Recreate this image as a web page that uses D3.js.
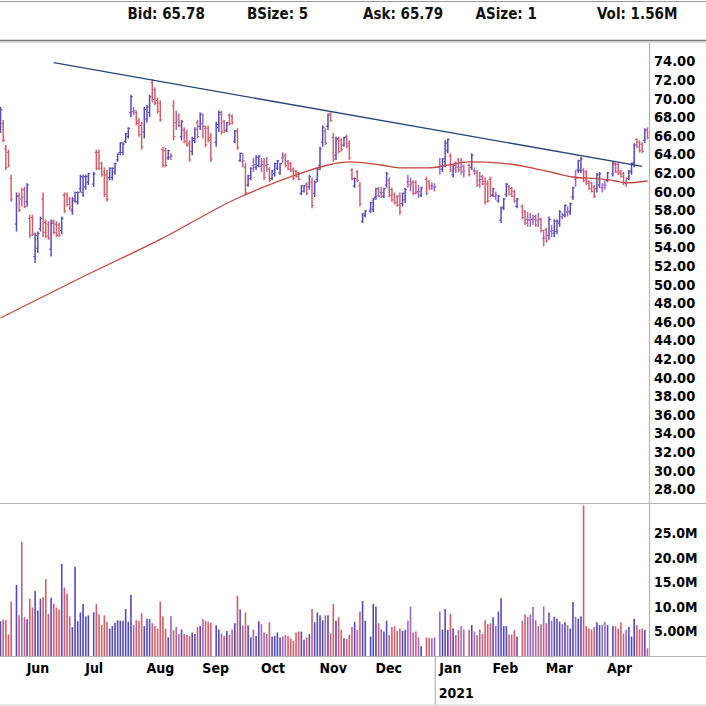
<!DOCTYPE html>
<html><head><meta charset="utf-8">
<script src="https://cdn.jsdelivr.net/npm/d3@7"></script>
<style>
body{margin:0;background:#fff}
svg{display:block}
text{font-family:"DejaVu Sans Condensed","DejaVu Sans",sans-serif;font-stretch:condensed}
</style>
</head><body>
<svg id="chart" width="706" height="706"></svg>
<script>
// ---------- data ----------
const startDate = "2020-05-18", endDate = "2021-04-22";
const holidays = ["2020-05-25","2020-07-03","2020-09-07","2020-11-26","2020-12-25","2021-01-01","2021-01-18","2021-02-15","2021-04-02"];

const highs = [69.1,67.7,65.0,64.5,61.8,59.9,59.9,60.4,60.5,60.9,
57.5,57.5,55.6,55.7,57.3,59.9,57.0,56.8,57.0,57.0,
56.8,56.6,57.3,59.9,59.9,59.4,59.4,60.0,60.0,61.8,
61.8,61.8,62.0,62.1,64.5,64.5,63.2,62.6,62.3,62.6,
62.6,63.1,64.1,65.3,65.3,66.3,66.9,70.4,69.1,68.7,
67.9,67.5,69.1,69.3,70.4,72.1,71.2,70.1,69.8,64.8,
64.7,64.5,64.1,69.8,68.7,68.4,67.7,66.9,66.6,65.5,
65.9,66.9,67.7,68.5,68.4,67.1,67.1,66.3,67.5,68.7,
68.7,67.7,67.5,68.4,68.3,66.6,66.8,64.2,64.1,63.1,
61.8,62.6,63.6,63.9,63.9,63.6,63.6,63.7,62.6,62.3,
63.1,63.4,63.1,64.2,64.1,63.4,63.2,62.6,62.3,62.1,
60.7,60.7,61.0,61.8,61.5,61.2,62.6,64.8,67.1,66.8,
68.4,68.5,66.3,65.9,65.9,65.7,65.9,66.1,65.5,62.5,
61.5,62.3,61.0,57.7,58.0,58.9,59.3,60.4,60.5,60.5,
60.4,62.1,61.5,60.4,59.9,59.6,59.9,59.9,60.4,61.8,
61.5,61.2,61.2,60.7,60.5,61.6,61.2,61.0,60.9,63.6,
63.6,65.5,65.7,64.1,62.9,63.2,63.6,63.6,62.9,63.0,
64.1,62.6,62.3,62.1,61.8,61.5,61.2,61.6,60.4,60.0,
59.6,58.4,59.3,60.9,60.7,60.5,60.2,59.3,58.6,58.0,
57.8,57.7,57.5,57.5,57.7,57.2,55.9,56.1,57.3,56.4,
57.0,57.0,58.0,57.7,58.6,58.4,58.8,60.5,62.3,63.4,
63.7,62.5,62.3,61.2,61.0,60.7,62.0,62.1,60.9,61.2,
62.1,63.2,63.1,63.1,62.3,62.1,61.5,62.3,63.1,65.2,
65.7,65.5,65.3,66.8,66.9];

const lows = [66.3,65.3,62.3,62.6,58.9,55.7,57.8,58.4,58.2,58.4,
55.0,55.2,52.3,53.4,55.7,55.1,55.0,54.8,53.0,55.4,
55.1,55.1,55.4,57.7,58.4,58.0,57.5,58.8,58.6,59.9,
59.4,60.2,60.7,60.5,62.3,62.3,61.6,59.4,58.9,61.2,
61.2,61.8,63.2,63.9,63.9,65.2,65.7,68.0,68.2,67.1,
65.9,64.5,65.7,67.4,68.0,69.6,69.3,68.4,67.5,62.6,
62.6,63.4,63.4,65.5,66.6,66.9,65.5,65.2,64.8,63.2,
63.9,65.2,65.7,66.6,65.7,64.8,65.3,63.2,64.8,66.4,
66.1,66.3,66.4,67.1,67.2,65.2,64.5,63.2,62.6,59.6,
60.5,61.2,62.1,62.3,62.6,62.1,61.2,62.1,61.0,61.2,
61.6,62.3,61.8,63.1,62.6,62.3,62.1,61.2,61.5,61.2,
59.6,59.9,59.6,60.2,58.2,59.4,61.0,62.3,64.8,65.0,
66.6,67.5,63.2,63.4,64.1,64.3,64.8,64.7,63.4,61.2,
60.4,61.0,58.4,56.6,57.2,57.7,57.8,59.1,59.4,59.3,
59.3,60.4,59.4,58.9,58.6,58.4,57.5,58.4,58.8,60.4,
60.0,59.6,59.7,59.3,59.4,59.6,60.2,60.2,60.0,61.8,
62.1,62.6,64.1,62.1,61.5,62.0,62.1,61.8,61.5,61.6,
62.3,61.8,60.5,60.4,60.7,58.6,58.8,59.4,59.4,59.1,
58.8,56.6,58.0,59.4,59.6,59.4,58.8,58.2,57.0,56.4,
56.2,56.2,56.4,56.2,56.2,55.6,54.1,54.5,54.8,55.1,
55.1,55.4,56.2,57.0,57.2,57.3,57.5,59.1,60.5,62.0,
62.0,61.0,60.7,60.2,59.9,59.3,59.9,60.4,59.9,60.2,
61.0,61.6,62.0,61.8,61.5,60.7,60.5,61.2,61.8,62.6,
64.7,64.2,64.1,65.2,65.6];

const opens = [66.9,67.3,64.6,64.2,61.4,56.5,59.6,59.2,60.2,58.9,
57.1,57.2,53.0,53.9,56.0,59.2,56.7,56.5,53.8,56.8,
56.5,56.4,55.8,59.6,59.7,59.2,57.9,59.0,58.9,60.3,
59.9,60.5,61.0,60.8,64.2,64.2,63.0,62.1,61.8,61.5,
61.5,62.1,63.4,64.2,64.2,65.4,65.9,68.5,68.6,68.5,
67.6,67.1,66.4,67.8,68.5,71.7,70.9,69.8,69.5,64.5,
64.4,63.6,63.7,69.2,67.4,68.2,65.9,66.6,66.3,65.2,
64.3,65.5,67.4,67.0,67.3,66.8,66.8,65.8,65.3,66.9,
68.3,67.5,66.6,68.2,68.1,65.4,66.5,63.3,63.2,62.6,
60.7,61.4,62.8,62.6,62.8,62.7,63.2,62.8,62.4,61.4,
61.9,62.5,62.0,63.6,63.9,63.2,63.0,62.4,62.2,62.0,
59.8,60.0,60.8,60.5,61.0,59.8,61.3,62.8,65.3,66.5,
67.0,68.4,65.8,63.9,65.6,65.5,65.0,65.9,65.2,62.3,
60.6,62.1,60.6,56.8,57.4,57.9,58.1,59.4,60.3,59.9,
59.5,60.7,61.2,60.2,59.7,59.4,59.5,58.7,59.1,61.0,
60.7,61.0,61.0,60.0,59.6,61.3,61.1,60.6,60.4,62.6,
62.4,63.2,64.4,63.8,61.8,62.5,63.4,62.6,62.1,62.8,
62.6,62.2,62.0,61.2,61.6,61.1,60.8,61.3,59.6,59.5,
59.0,56.9,58.3,59.7,60.5,60.3,60.0,58.4,58.4,57.8,
57.0,56.9,57.0,57.3,56.9,57.0,55.0,55.9,55.3,55.7,
55.5,55.7,56.6,57.3,57.5,57.8,57.8,59.4,61.3,62.3,
62.3,62.3,62.1,61.1,60.9,60.5,60.3,60.7,60.4,60.7,
61.2,61.9,62.9,62.9,62.2,61.9,61.0,61.4,62.1,63.1,
65.6,65.3,65.1,65.5,66.6];

const closes = [68.8,65.5,62.6,62.8,59.2,59.5,58.0,59.4,58.4,60.7,
55.3,55.4,55.3,55.5,57.1,55.6,55.2,55.0,56.6,55.6,
55.3,55.3,57.1,57.9,58.6,58.1,59.2,59.9,59.9,61.6,
61.6,61.6,61.9,61.9,62.5,62.5,61.8,59.7,59.2,62.5,
62.5,63.0,64.0,65.2,65.1,66.2,66.8,70.2,68.7,67.3,
66.1,64.8,68.8,69.1,70.2,69.9,69.5,68.6,67.7,62.8,
62.8,64.4,63.8,65.9,67.7,67.1,67.5,65.4,65.0,63.4,
65.7,66.7,65.9,68.3,67.0,65.0,65.5,63.5,67.2,68.5,
66.4,66.5,67.4,67.3,67.4,66.5,64.7,64.1,63.3,59.9,
61.7,62.5,62.9,63.7,63.8,62.9,61.5,62.9,61.2,62.2,
63.0,63.3,63.0,63.7,62.8,62.4,62.2,61.4,61.6,61.3,
60.6,60.6,59.8,61.6,58.5,61.0,62.4,64.6,66.9,65.2,
68.2,67.6,63.5,65.7,64.3,64.5,65.8,64.9,63.6,61.4,
61.4,61.2,58.7,57.6,57.9,58.8,59.2,60.3,59.5,59.9,
60.3,61.9,59.6,59.1,58.8,58.5,57.8,59.8,60.2,61.1,
60.8,59.8,59.9,60.0,60.4,59.8,60.3,60.6,60.5,62.7,
63.5,65.2,65.6,62.3,62.8,62.6,62.3,62.7,62.2,61.8,
63.9,62.2,60.7,61.3,60.8,58.9,59.0,59.6,60.3,59.6,
59.5,58.2,59.2,60.8,59.7,59.5,59.0,59.2,57.2,56.6,
57.0,57.0,57.0,56.4,57.0,55.8,55.0,54.7,57.0,55.8,
56.8,56.8,57.8,57.4,58.5,57.9,58.7,60.4,61.4,63.3,
63.5,61.2,60.9,60.3,60.0,59.5,61.8,61.9,60.4,60.7,
62.0,63.0,62.1,62.0,61.6,60.9,61.0,62.2,63.0,65.0,
64.8,64.4,64.3,66.6,65.8];

// volume in millions
const volumes = [7.1,7.4,7.3,4.4,11.1,14.5,8.3,23.3,7.9,7.5,
11.7,9.9,13.3,9.3,11.7,12.0,15.7,8.6,11.9,10.7,
9.9,9.5,18.8,14.0,12.7,8.1,5.9,18.2,7.1,8.9,
10.6,8.1,8.3,8.9,10.6,8.5,6.3,8.3,7.0,5.6,
6.1,6.8,7.3,7.2,7.2,9.6,7.0,12.5,6.3,7.3,
7.2,8.7,6.1,7.6,7.6,6.7,6.1,5.6,11.1,8.1,
5.6,3.8,8.1,5.3,5.9,4.5,5.4,4.5,4.3,4.1,
4.8,4.5,5.9,6.1,7.5,7.2,7.0,6.8,6.3,5.4,
4.6,4.1,5.1,4.3,5.4,6.7,12.3,9.5,6.2,8.9,
6.2,3.8,5.4,4.1,7.1,6.5,4.8,4.5,6.9,4.0,
4.1,4.8,3.8,4.0,4.3,4.1,3.6,3.1,4.8,5.0,
5.0,3.3,3.8,4.5,9.6,6.9,8.9,8.3,7.3,8.3,
8.3,4.6,10.6,7.2,7.9,5.3,3.6,3.5,4.3,5.9,
7.0,5.3,9.1,11.2,7.2,4.0,10.6,10.1,6.7,5.4,
5.0,7.2,4.3,5.9,6.1,5.1,5.6,5.1,5.4,7.2,
10.1,4.8,5.0,3.8,2.0,3.8,3.7,3.6,3.8,9.1,
5.4,9.6,5.3,8.6,5.6,4.3,5.3,6.1,5.4,5.3,
6.3,5.0,4.3,5.4,4.5,7.3,6.5,6.7,7.9,6.1,
9.1,11.8,6.1,6.1,4.4,4.4,5.3,4.0,7.2,8.5,
8.0,8.5,10.0,7.3,6.1,6.5,10.1,6.7,8.9,7.2,
8.0,7.6,7.0,6.5,6.9,6.3,5.6,11.0,8.0,7.6,
8.1,30.7,6.1,5.6,5.4,5.9,6.9,6.3,6.3,7.0,
6.3,6.1,6.1,5.6,6.9,4.6,5.3,5.9,4.0,7.6,
6.3,5.4,5.6,5.3,1.6];

// moving average, read at selected bars (bar index, value)
const maBars   = [0,29,58,87,95,108,120,128,139,147,156,162,169,181,190,200,207,217,222,226,234];
const maValues = [46.40,50.70,54.85,59.41,60.38,61.78,62.85,63.18,62.85,62.53,62.53,62.85,63.18,63.06,62.63,61.99,61.56,61.35,61.13,60.92,61.13];

// trend line (bar index, value)
const trendBars = [19,232];
const trendValues = [73.85,62.70];

const priceTicks = [28,30,32,34,36,38,40,42,44,46,48,50,52,54,56,58,60,62,64,66,68,70,72,74];
const volumeTicks = [5,10,15,20,25];
const volumeTickLabels = ["5.00M","10.0M","15.0M","20.0M","25.0M"];
const monthStarts = ["2020-05-01","2020-06-01","2020-07-01","2020-08-03","2020-09-01","2020-10-01","2020-11-02","2020-12-01","2021-01-04","2021-02-01","2021-03-01","2021-04-01"];
const monthLabels = ["May","Jun","Jul","Aug","Sep","Oct","Nov","Dec","Jan","Feb","Mar","Apr"];
const yearMark = "2021-01-04", yearLabel = "2021";
const headerItems = ["Bid: 65.78","BSize: 5","Ask: 65.79","ASize: 1","Vol: 1.56M"];

// ---------- build ----------
const W = 706, H = 706;
const svg = d3.select("#chart");
const parse = d3.utcParse("%Y-%m-%d"), fmt = d3.utcFormat("%Y-%m-%d");
const isWeekday = d => d.getUTCDay() !== 0 && d.getUTCDay() !== 6;
const weekdays = d3.utcDay.range(parse(startDate), d3.utcDay.offset(parse(endDate), 1)).filter(isWeekday);
const slotOf = new Map(weekdays.map((d, i) => [fmt(d), i]));
function slotFor(s) {
  if (slotOf.has(s)) return slotOf.get(s);
  const d = parse(s);
  return -d3.utcDay.range(d, parse(startDate)).filter(isWeekday).length;
}
const tradingDays = weekdays.filter(d => !holidays.includes(fmt(d))).map(fmt);
const bars = tradingDays.map((date, i) => ({
  date, slot: slotOf.get(date), o: opens[i], h: highs[i], l: lows[i], c: closes[i], v: volumes[i]
}));

const axisX = 649.5;
const x = d3.scaleLinear().domain([0, weekdays.length - 1]).range([0.5, 647.5]);
const y = d3.scaleLinear().domain([28, 74]).range([489.1, 61.3]);
const yv = d3.scaleLinear().domain([0, 25]).range([656, 533.5]);
const col = d3.scaleLinear().domain([0, 0.5, 1]).range(["#e05a56", "#a26abd", "#4242bc"]).clamp(true);
const colorOf = b => col(b.h > b.l ? (b.c - b.l) / (b.h - b.l) : 0.5);
const FONT = '"DejaVu Sans Condensed","DejaVu Sans",sans-serif';

// background
svg.append("rect").attr("width", W).attr("height", H).attr("fill", "#fff");

// header
svg.append("line").attr("x1", 0).attr("x2", W).attr("y1", 1.5).attr("y2", 1.5).attr("stroke", "#9a9a9a").attr("stroke-width", 1);
const headerX = [127.5, 247, 363, 475.5, 597];
svg.append("g").selectAll("text").data(headerItems).join("text")
  .attr("x", (d, i) => headerX[i]).attr("y", 18.5)
  .attr("font-size", 15).attr("font-weight", "bold").attr("fill", "#111").text(d => d);
svg.append("line").attr("x1", 0).attr("x2", W).attr("y1", 40.5).attr("y2", 40.5).attr("stroke", "#777").attr("stroke-width", 1.5);
svg.append("line").attr("x1", 0).attr("x2", W).attr("y1", 42.2).attr("y2", 42.2).attr("stroke", "#c8c8c8").attr("stroke-width", 1);

// panels borders
const plotG = svg.append("g");
plotG.append("line").attr("x1", 0).attr("x2", W).attr("y1", 503.5).attr("y2", 503.5).attr("stroke", "#b4b4b4").attr("stroke-width", 1.2);
plotG.append("line").attr("x1", 0).attr("x2", W).attr("y1", 656.5).attr("y2", 656.5).attr("stroke", "#b4b4b4").attr("stroke-width", 1.2);
plotG.append("line").attr("x1", axisX).attr("x2", axisX).attr("y1", 43).attr("y2", 657).attr("stroke", "#b4b4b4").attr("stroke-width", 1.2);
plotG.append("line").attr("x1", 0).attr("x2", W).attr("y1", 705).attr("y2", 705).attr("stroke", "#d0d0d0").attr("stroke-width", 1);

// clip for plot area
svg.append("clipPath").attr("id", "pc").append("rect").attr("x", 0).attr("y", 43).attr("width", axisX - 0.5).attr("height", 460);
svg.append("clipPath").attr("id", "vc").append("rect").attr("x", 0).attr("y", 504.5).attr("width", axisX - 0.5).attr("height", 151.5);

// volume bars
svg.append("g").attr("clip-path", "url(#vc)").selectAll("line").data(bars).join("line")
  .attr("x1", d => x(d.slot)).attr("x2", d => x(d.slot))
  .attr("y1", yv(0)).attr("y2", d => yv(d.v))
  .attr("stroke", colorOf).attr("stroke-width", 1.6);

// price bars
const pg = svg.append("g").attr("clip-path", "url(#pc)");
const bg = pg.selectAll("g.bar").data(bars).join("g").attr("class", "bar").attr("stroke", colorOf).attr("stroke-width", 1.5);
bg.append("line").attr("x1", d => x(d.slot)).attr("x2", d => x(d.slot)).attr("y1", d => y(d.h)).attr("y2", d => y(d.l));
bg.append("line").attr("x1", d => x(d.slot) - 1.8).attr("x2", d => x(d.slot)).attr("y1", d => y(d.o)).attr("y2", d => y(d.o)).attr("stroke-width", 1.1);
bg.append("line").attr("x1", d => x(d.slot)).attr("x2", d => x(d.slot) + 1.8).attr("y1", d => y(d.c)).attr("y2", d => y(d.c)).attr("stroke-width", 1.1);

// moving average
const maPts = maBars.map((b, i) => [x(bars[b].slot), y(maValues[i])]);
pg.append("path").attr("d", d3.line().curve(d3.curveMonotoneX)(maPts))
  .attr("fill", "none").attr("stroke", "#c4463c").attr("stroke-width", 1.3);

// trend line
const trPts = trendBars.map((b, i) => [x(bars[b].slot), y(trendValues[i])]);
pg.append("path").attr("d", d3.line()(trPts)).attr("fill", "none").attr("stroke", "#26457e").attr("stroke-width", 1.3);

// price axis
const pa = svg.append("g").attr("transform", `translate(${axisX},0)`)
  .call(d3.axisRight(y).tickValues(priceTicks).tickFormat(d3.format(".2f")).tickSize(0).tickPadding(4.5));
pa.select(".domain").remove();
pa.selectAll("text").attr("font-size", 14.5).attr("font-weight", "bold").attr("fill", "#000").style("font-family", FONT);

// volume axis
const va = svg.append("g").attr("transform", `translate(${axisX},0)`)
  .call(d3.axisRight(yv).tickValues(volumeTicks).tickFormat((d, i) => volumeTickLabels[i]).tickSize(0).tickPadding(4.5));
va.select(".domain").remove();
va.selectAll("text").attr("font-size", 14).attr("font-weight", "bold").attr("fill", "#000").style("font-family", FONT);

// month axis
const ma = svg.append("g").attr("transform", "translate(0,656.5)")
  .call(d3.axisBottom(x).tickValues(monthStarts.map(slotFor)).tickFormat((d, i) => monthLabels[i]).tickSize(0).tickPadding(7));
ma.select(".domain").remove();
ma.selectAll("text").attr("text-anchor", "start").attr("dx", -1).attr("font-size", 14).attr("font-weight", "bold").attr("fill", "#000").style("font-family", FONT);

// year marker
const yx = x(slotFor(yearMark)) - 4.5;
svg.append("line").attr("x1", yx).attr("x2", yx).attr("y1", 657).attr("y2", 705).attr("stroke", "#b4b4b4").attr("stroke-width", 1.2);
svg.append("text").attr("x", x(slotFor(yearMark)) - 1).attr("y", 698).attr("font-size", 14).attr("font-weight", "bold").attr("fill", "#000").text(yearLabel);
</script>
</body></html>
